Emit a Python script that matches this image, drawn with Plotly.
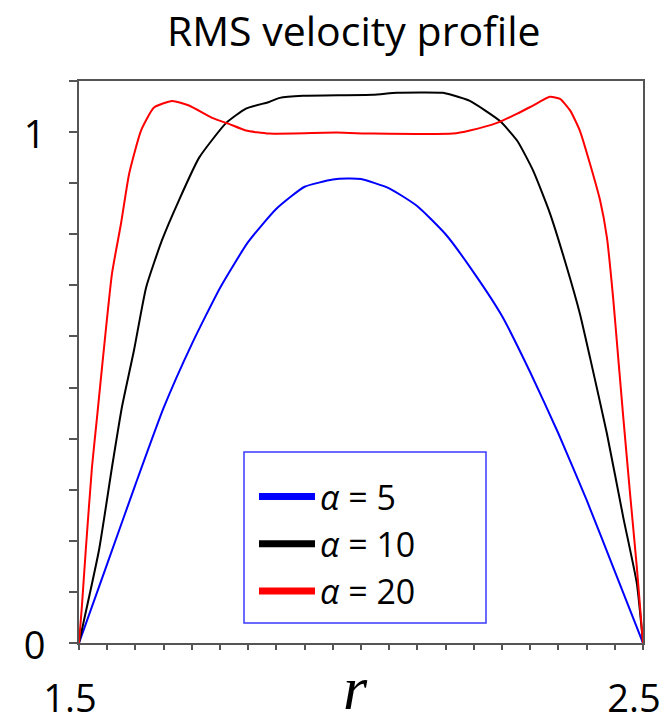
import plotly.graph_objects as go

# ---- data ----
r_a5 = [1.5, 1.55, 1.6, 1.65, 1.7, 1.75, 1.8, 1.85, 1.9, 1.95, 1.975, 2.0, 2.05, 2.1, 2.15, 2.2, 2.25, 2.3, 2.35, 2.4, 2.45, 2.5]
v_a5 = [0.0, 0.155, 0.31, 0.46, 0.585, 0.695, 0.785, 0.85, 0.893, 0.907, 0.909, 0.908, 0.89, 0.855, 0.80, 0.725, 0.64, 0.53, 0.41, 0.28, 0.14, 0.0]

r_a10 = [1.5, 1.505, 1.5355, 1.5585, 1.576, 1.5975, 1.619, 1.647, 1.677, 1.713, 1.761, 1.796, 1.837, 1.856, 1.897,
         2.021, 2.064, 2.145, 2.16, 2.193, 2.246, 2.277, 2.305, 2.335, 2.365, 2.388, 2.406, 2.436, 2.465, 2.489, 2.5]
v_a10 = [0.0, 0.025, 0.182, 0.344, 0.461, 0.573, 0.696, 0.788, 0.866, 0.950, 1.018, 1.046, 1.059, 1.067, 1.071,
         1.073, 1.077, 1.077, 1.073, 1.061, 1.022, 0.983, 0.925, 0.841, 0.735, 0.645, 0.559, 0.410, 0.246, 0.117, 0.0]

r_a20 = [1.5, 1.505, 1.512, 1.523, 1.532, 1.5426, 1.5585, 1.5745, 1.589, 1.610, 1.633, 1.665, 1.695, 1.736, 1.766,
         1.796, 1.837, 1.957, 2.021, 2.163, 2.193, 2.241, 2.277, 2.305, 2.335, 2.353, 2.371, 2.388, 2.406, 2.424,
         2.436, 2.447, 2.456, 2.465, 2.477, 2.489, 2.5]
v_a20 = [0.0, 0.070, 0.182, 0.344, 0.442, 0.559, 0.723, 0.821, 0.919, 1.003, 1.048, 1.061, 1.052, 1.028, 1.016,
         1.003, 0.997, 0.999, 0.997, 0.997, 1.003, 1.018, 1.036, 1.052, 1.069, 1.065, 1.042, 1.003, 0.938, 0.866,
         0.794, 0.676, 0.559, 0.442, 0.293, 0.149, 0.0]

series_names = ["<i>α</i> = 5", "<i>α</i> = 10", "<i>α</i> = 20"]
series_colors = ["#0000ff", "#000000", "#ff0000"]
x_tick_vals = [1.5, 2.5]
x_tick_text = ["1.5", "2.5"]
y_tick_vals = [0, 1]
y_tick_text = ["0", "1"]

fig = go.Figure()
for rr, vv, col in zip([r_a5, r_a10, r_a20], [v_a5, v_a10, v_a20], series_colors):
    fig.add_trace(go.Scatter(x=rr, y=vv, mode="lines",
                             line=dict(color=col, width=2, shape="spline", smoothing=0.5),
                             showlegend=False, hoverinfo="skip"))
# legend-only entries (thicker sample lines as in the reference)
for name, col in zip(series_names, series_colors):
    fig.add_trace(go.Scatter(x=[None], y=[None], mode="lines", name=name,
                             line=dict(color=col, width=7)))

axcol = "#555555"
L, B, W, H = 79, 643, 564, 562  # plot-area pixel geometry (left, bottom, width, height)
fig.update_layout(
    width=670, height=722,
    margin=dict(l=79, r=27, t=81, b=79),
    paper_bgcolor="white", plot_bgcolor="white",
    font=dict(family="Open Sans", color="black"),
    title=dict(text="RMS velocity profile", x=0.528, xanchor="center", y=1 - 32 / 722, yanchor="middle",
               font=dict(size=41, family="Open Sans", color="black")),
    legend=dict(x=(254 - L) / W, y=(B - 468) / H, xanchor="left", yanchor="top",
                borderwidth=0, bgcolor="rgba(0,0,0,0)", itemwidth=56,
                font=dict(size=34, family="Open Sans", color="black")),
    xaxis=dict(range=[1.5, 2.5], tickvals=x_tick_vals, ticktext=x_tick_text, automargin=False,
               ticks="outside", ticklen=5, tickwidth=2, tickcolor=axcol,
               minor=dict(tick0=1.5, dtick=0.05, ticks="outside", ticklen=5, tickwidth=2, tickcolor=axcol),
               showline=True, linecolor=axcol, linewidth=2, mirror=True,
               showgrid=False, zeroline=False,
               tickfont=dict(size=38, family="Open Sans", color="black"),
               ticklabelstandoff=16, ticklabelshift=-9),
    yaxis=dict(range=[0, 1.1], tickvals=y_tick_vals, ticktext=y_tick_text, automargin=False,
               ticks="outside", ticklen=8, tickwidth=2, tickcolor=axcol,
               minor=dict(tick0=0, dtick=0.1, ticks="outside", ticklen=8, tickwidth=2, tickcolor=axcol),
               showline=True, linecolor=axcol, linewidth=2, mirror=True,
               showgrid=False, zeroline=False,
               tickfont=dict(size=38, family="Open Sans", color="black"),
               ticklabelstandoff=16, ticklabelshift=3),
)
# legend frame
fig.add_shape(type="rect", xref="paper", yref="paper",
              x0=(244 - L) / W, x1=(486 - L) / W, y0=(B - 623) / H, y1=(B - 452) / H,
              line=dict(color="#3a3aff", width=1.5), fillcolor="white", layer="below")
fig.add_annotation(text="<i>r</i>", xref="paper", yref="paper", x=(355 - L) / W, y=(B - 688) / H,
                   xanchor="center", yanchor="middle", showarrow=False,
                   font=dict(size=62, family="Liberation Serif", color="black"))

fig.write_html("out.html")
